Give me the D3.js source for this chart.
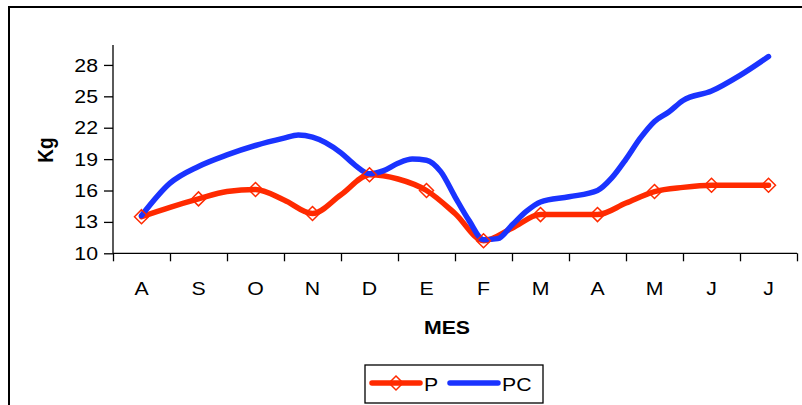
<!DOCTYPE html>
<html>
<head>
<meta charset="utf-8">
<script src="https://cdn.jsdelivr.net/npm/d3@7"></script>
<style>
  body { margin: 0; background: #fff; }
  text { font-family: Arial, "Liberation Sans", sans-serif; }
</style>
</head>
<body>
<svg></svg>
<script>
const months = ['A', 'S', 'O', 'N', 'D', 'E', 'F', 'M', 'A', 'M', 'J', 'J'];
const yTicks = [10, 13, 16, 19, 22, 25, 28];

// P: monthly values (markers) plus a few in-between readings for the curve
const pIdx = [0, 0.5, 1, 1.5, 2, 2.5, 3, 3.5, 4, 4.5, 5, 5.5, 6, 6.5, 7, 7.5, 8, 8.5, 9, 9.5, 10, 10.5, 11];
const pVal = [13.5, 14.4, 15.2, 15.9, 16.1, 15.1, 13.8, 15.6, 17.5, 17.1, 16.0, 13.8, 11.2, 12.4, 13.7, 13.7, 13.7, 14.8, 15.9, 16.3, 16.5, 16.5, 16.5];

// PC: no markers, read at finer steps
const pcIdx = [0, 0.5, 1, 1.5, 2, 2.5, 2.75, 3, 3.5, 3.75, 4, 4.25, 4.5, 4.75, 5, 5.25, 5.5, 5.75, 6, 6.25, 6.5, 6.75, 7, 7.5, 8, 8.25, 8.5, 8.75, 9, 9.25, 9.5, 10, 10.5, 11];
const pcVal = [13.6, 16.7, 18.3, 19.4, 20.3, 21.0, 21.3, 21.1, 19.6, 18.4, 17.6, 17.9, 18.6, 19.0, 18.9, 17.8, 15.4, 13.1, 11.3, 11.4, 12.7, 14.0, 14.9, 15.4, 16.0, 17.2, 19.0, 21.0, 22.6, 23.5, 24.6, 25.5, 27.0, 28.8];

const size = {w: 802, h: 405};
const svg = d3.select('svg').attr('width', size.w).attr('height', size.h);

// outer frame
svg.append('rect')
    .attr('x', 9).attr('y', 7)
    .attr('width', 810).attr('height', 420)
    .attr('fill', 'none').attr('stroke', '#000').attr('stroke-width', 2);

const x = d3.scaleLinear().domain([-0.5, 11.5]).range([113, 797]);
const y = d3.scaleLinear().domain([10, 30]).range([253.3, 44]);

// the original text is a bit wider than plain Arial
const fs = 19, sx = 1.12;

// place a text at (px,py), stretched horizontally
function label(px, py, str, anchor, bold) {
    return svg.append('text')
        .attr('transform', `translate(${px},${py}) scale(${sx},1)`)
        .attr('text-anchor', anchor || 'middle')
        .attr('font-size', fs)
        .attr('font-weight', bold ? 'bold' : null)
        .text(str);
}

// y axis
const yAxis = svg.append('g')
    .attr('transform', 'translate(113,0)')
    .call(d3.axisLeft(y).tickValues(yTicks).tickSize(9).tickPadding(6));
yAxis.select('.domain').attr('d', `M0,${y(30) + 1}V${y(10)}`).attr('stroke-width', 1.3);
yAxis.selectAll('.tick line').attr('stroke-width', 1.3);
yAxis.selectAll('text')
    .attr('x', -15 / sx)
    .attr('transform', `scale(${sx},1)`)
    .attr('font-size', fs).attr('font-family', 'Arial, "Liberation Sans", sans-serif').attr('fill', '#000');

// x axis
const xAxis = svg.append('g')
    .attr('transform', `translate(0,${y(10)})`)
    .call(d3.axisBottom(x).tickValues(d3.range(-0.5, 12, 1)).tickSize(8).tickFormat(''));
xAxis.select('.domain').attr('d', `M113,0H797`).attr('stroke-width', 1.3);
xAxis.selectAll('.tick line').attr('stroke-width', 1.3);

months.forEach((m, i) => label(x(i), 295, m));

svg.append('text')
    .attr('transform', 'translate(53,150) rotate(-90) scale(1,' + sx + ')')
    .attr('text-anchor', 'middle')
    .attr('font-size', fs).attr('font-weight', 'bold')
    .text('Kg');

label(447, 334, 'MES', 'middle', true);

const line = d3.line()
    .x(d => x(d[0]))
    .y(d => y(d[1]))
    .curve(d3.curveMonotoneX);

const red = '#ff2a00';
const blue = '#1a33ff';

svg.append('path')
    .datum(pIdx.map((d, i) => [d, pVal[i]]))
    .attr('d', line)
    .attr('fill', 'none').attr('stroke', red)
    .attr('stroke-width', 5.5).attr('stroke-linejoin', 'round').attr('stroke-linecap', 'round');

svg.append('path')
    .datum(pcIdx.map((d, i) => [d, pcVal[i]]))
    .attr('d', line)
    .attr('fill', 'none').attr('stroke', blue)
    .attr('stroke-width', 5.5).attr('stroke-linejoin', 'round').attr('stroke-linecap', 'round');

const diamond = 'M0,-7L7,0L0,7L-7,0Z';
svg.append('g').selectAll('path')
    .data(pIdx.map((d, i) => [d, pVal[i]]).filter(d => Number.isInteger(d[0])))
    .join('path')
    .attr('transform', d => `translate(${x(d[0])},${y(d[1])})`)
    .attr('d', diamond)
    .attr('fill', 'none').attr('stroke', red).attr('stroke-width', 1.5);

// legend
svg.append('rect')
    .attr('x', 365).attr('y', 365).attr('width', 178).attr('height', 38)
    .attr('fill', '#fff').attr('stroke', '#000').attr('stroke-width', 1.3);
svg.append('line').attr('x1', 372).attr('x2', 420).attr('y1', 383).attr('y2', 383)
    .attr('stroke', red).attr('stroke-width', 5.5).attr('stroke-linecap', 'round');
svg.append('path').attr('transform', 'translate(396,383)').attr('d', diamond)
    .attr('fill', 'none').attr('stroke', red).attr('stroke-width', 1.5);
label(424, 391, 'P', 'start');
svg.append('line').attr('x1', 450).attr('x2', 498).attr('y1', 383).attr('y2', 383)
    .attr('stroke', blue).attr('stroke-width', 5.5).attr('stroke-linecap', 'round');
label(502, 391, 'PC', 'start');
</script>
</body>
</html>
